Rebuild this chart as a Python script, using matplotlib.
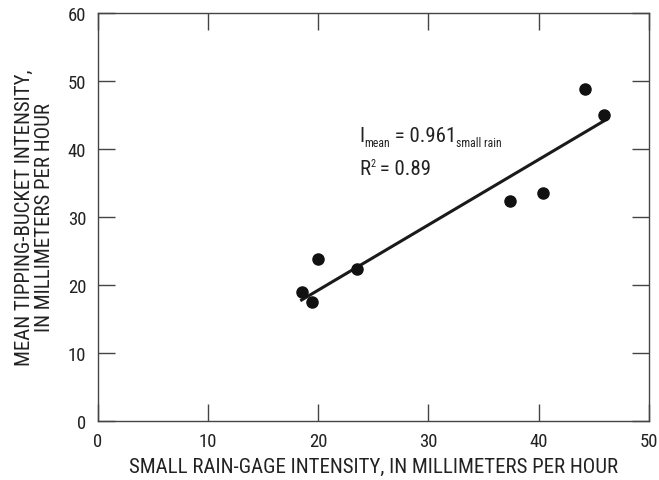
import matplotlib
matplotlib.use("Agg")
import matplotlib.pyplot as plt
from matplotlib.transforms import offset_copy
import numpy as np

# Data
small_rain = [18.5, 19.4, 20.0, 23.5, 37.4, 40.4, 44.2, 45.9]
mean_tipping = [18.9, 17.5, 23.8, 22.3, 32.3, 33.5, 48.8, 45.0]
slope = 0.961
fit_x = [18.5, 45.9]
x_ticks = [0, 10, 20, 30, 40, 50]
y_ticks = [0, 10, 20, 30, 40, 50, 60]

FONT = 'Roboto Condensed'
plt.rcParams['font.family'] = [FONT, 'DejaVu Sans']

txt = '#222222'
spine = '#444444'

fig = plt.figure(figsize=(6.59, 4.81), dpi=100)
ax = fig.add_axes([0.148, 0.123, 0.837, 0.848])

ax.plot(small_rain, mean_tipping, 'o', color='#111111', markersize=8, zorder=3)
fx = np.array(fit_x)
ax.plot(fx, slope * fx, '-', color='#1a1a1a', linewidth=2.2, zorder=2)

ax.set_xlim(0, 50)
ax.set_ylim(0, 60)
ax.set_xticks(x_ticks)
ax.set_yticks(y_ticks)
ax.tick_params(direction='in', length=12, width=1, color=spine,
               top=True, right=True, labelsize=13.5, labelcolor=txt, pad=8)
for s in ax.spines.values():
    s.set_color(spine)
    s.set_linewidth(1)

ax.set_xlabel('SMALL RAIN-GAGE INTENSITY, IN MILLIMETERS PER HOUR',
              fontsize=15, color=txt, labelpad=5)
ax.set_ylabel('MEAN TIPPING-BUCKET INTENSITY,\nIN MILLIMETERS PER HOUR',
              fontsize=15, color=txt, labelpad=10, linespacing=1.05)

renderer = fig.canvas.get_renderer()


def runs(x, y, parts):
    """parts: list of (text, fontsize, dy_points); drawn left to right."""
    dx = 0.0
    for s, fs, dy in parts:
        tr = offset_copy(ax.transData, fig=fig, x=dx, y=dy, units='points')
        t = ax.text(x, y, s, fontsize=fs, color=txt, ha='left', va='baseline',
                    transform=tr)
        w = t.get_window_extent(renderer=renderer).width * 72.0 / fig.dpi
        dx += w


runs(23.7, 41.2, [('I', 15, 0), ('mean', 8.5, -4), (' = 0.961', 15, 0),
                  ('small rain', 8.5, -4)])
runs(23.7, 36.3, [('R', 15, 0), ('2', 7.5, 5.5), (' = 0.89', 15, 0)])

fig.savefig('out.png', dpi=100)
